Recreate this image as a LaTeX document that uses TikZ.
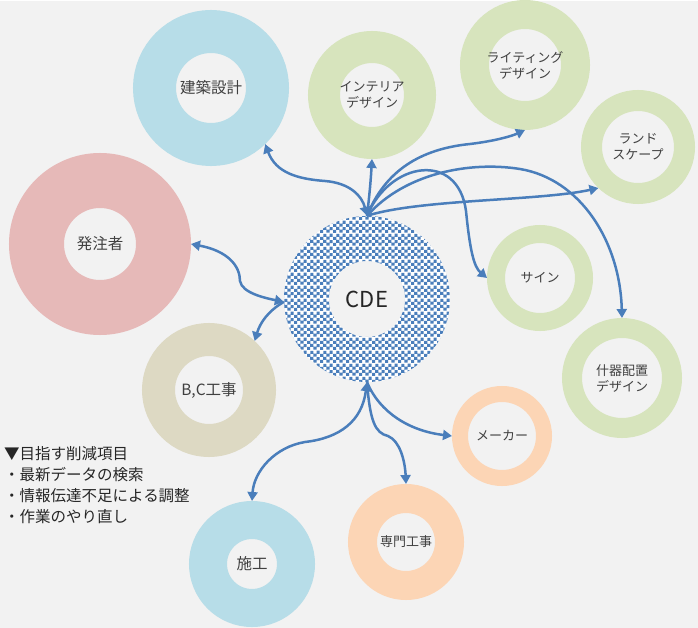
\documentclass[tikz,border=0pt]{standalone}
\usepackage{fontspec}
\setmainfont{Noto Sans CJK JP}
\usetikzlibrary{arrows.meta,patterns}

\definecolor{bggray}{HTML}{F2F2F2}
\definecolor{ringblue}{HTML}{B7DDE8}
\definecolor{ringpink}{HTML}{E6B9B8}
\definecolor{ringgreen}{HTML}{D7E4BD}
\definecolor{ringtan}{HTML}{DDD9C3}
\definecolor{ringpeach}{HTML}{FCD5B5}
\definecolor{linkblue}{HTML}{4A7EBB}
\definecolor{txtgray}{HTML}{404040}

\pgfdeclarepatternformonly{cdeconfetti}{\pgfqpoint{0pt}{0pt}}{\pgfqpoint{13.4pt}{12.6pt}}{\pgfqpoint{13.4pt}{12.6pt}}{%
	\pgfpathrectangle{\pgfqpoint{0pt}{0pt}}{\pgfqpoint{3.2pt}{3.2pt}}
	\pgfpathrectangle{\pgfqpoint{6.7pt}{0.3pt}}{\pgfqpoint{3.2pt}{3.2pt}}
	\pgfpathrectangle{\pgfqpoint{3.3pt}{3.1pt}}{\pgfqpoint{3.2pt}{3.2pt}}
	\pgfpathrectangle{\pgfqpoint{10pt}{2.9pt}}{\pgfqpoint{3.2pt}{3.2pt}}
	\pgfpathrectangle{\pgfqpoint{0.2pt}{6.3pt}}{\pgfqpoint{3.2pt}{3.2pt}}
	\pgfpathrectangle{\pgfqpoint{6.7pt}{6.5pt}}{\pgfqpoint{3.2pt}{3.2pt}}
	\pgfpathrectangle{\pgfqpoint{3.5pt}{9.3pt}}{\pgfqpoint{3.2pt}{3.2pt}}
	\pgfpathrectangle{\pgfqpoint{10pt}{9.4pt}}{\pgfqpoint{3.2pt}{3.2pt}}
	\pgfusepath{fill}}

\tikzset{
	ring/.style n args={3}{circle, inner sep=0pt, draw=#1, minimum size=#2+#3, line width=#2-#3,
		text=txtgray, align=center, font=\fontsize{13}{16}\selectfont},
	big/.style={font=\fontsize{15.5}{18}\selectfont},
	link/.style={draw=linkblue, line width=2.5pt},
}

\begin{document}
\begin{tikzpicture}[x=1pt,y=-1pt,>={Triangle[length=9pt,width=10pt]}]
			%\draw[help lines,step=50] (0,0) grid (698,627);
			\fill[bggray] (0,0) rectangle (698,627);

			\fill[white,even odd rule] (367,298) circle (83) circle (38);
			\fill[pattern=cdeconfetti,pattern color=linkblue,even odd rule] (367,298) circle (83) circle (38);
			\node[circle, inner sep=0pt, minimum size=166, font=\fontsize{22}{26}\selectfont, text=black!85] (cde) at (367,298) {CDE};

			\node[ring={ringblue}{78}{35}, big] (kenchiku) at (211,87) {建築設計};
			\node[ring={ringpink}{91}{36}, big] (hacchu) at (100,243) {発注者};
			\node[ring={ringgreen}{64}{32}] (interior) at (372,94) {インテリア\\デザイン};
			\node[ring={ringgreen}{65}{36}] (lighting) at (525,64) {ライティング\\デザイン};
			\node[ring={ringgreen}{57}{36}] (landscape) at (638,146) {ランド\\スケープ};
			\node[ring={ringgreen}{53}{35}] (sign) at (540,277) {サイン};
			\node[ring={ringgreen}{60}{40}] (fixture) at (622,377) {什器配置\\デザイン};
			\node[ring={ringtan}{67}{34}, big] (bcwork) at (209,389) {B,C工事};
			\node[ring={ringpeach}{50}{34}] (maker) at (502,435) {メーカー};
			\node[ring={ringpeach}{58}{29}] (senmon) at (406,541) {専門工事};
			\node[ring={ringblue}{63}{25}, big] (shiko) at (252,563) {施工};

			\node[anchor=north west, align=left, inner sep=0pt, text=black!85, font=\fontsize{15.5}{21}\selectfont] (goals) at (4,445)
				{▼目指す削減項目\\・最新データの検索\\・情報伝達不足による調整\\・作業のやり直し};

			\draw[link,<->] (kenchiku.-46) .. controls (276,172) and (298,178) .. (325,180) .. controls (350,182) and (362,195) .. (cde.north);
			\draw[link,->] (cde.north) .. controls (370,190) and (371,175) .. (interior.south);
			\draw[link,->] (cde.north) .. controls (385,170) and (420,148) .. (470,143) .. controls (495,140) and (512,135) .. (lighting.south);
			\draw[link,->] (cde.north) .. controls (390,160) and (458,150) .. (466,210) .. controls (470,250) and (474,266) .. (sign.west);
			\draw[link,->] (cde.north) .. controls (405,172) and (470,160) .. (520,168) .. controls (580,178) and (620,240) .. (fixture.north);
			\draw[link,->] (cde.north) .. controls (420,198) and (540,200) .. (landscape.226);

			\draw[link,<->] (hacchu.east) .. controls (228,250) and (240,265) .. (240,280) .. controls (242,292) and (265,297) .. (cde.182);
			\draw[link,->] (cde.182) .. controls (268,310) and (260,322) .. (bcwork.47);

			\draw[link,<->] (cde.south) .. controls (362,420) and (340,437) .. (305,441) .. controls (275,446) and (254,470) .. (shiko.north);
			\draw[link,->] (cde.south) .. controls (370,420) and (375,432) .. (388,435) .. controls (400,440) and (405,460) .. (senmon.north);
			\draw[link,->] (cde.south) .. controls (380,412) and (410,430) .. (maker.west);
		\end{tikzpicture}
\end{document}
